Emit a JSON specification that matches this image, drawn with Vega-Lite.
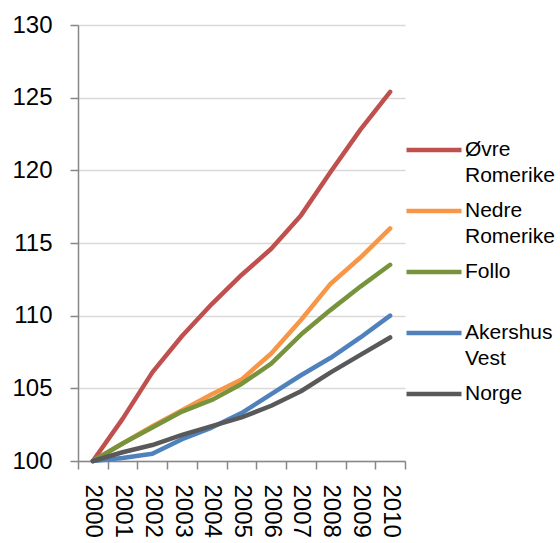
{
  "$schema": "https://vega.github.io/schema/vega-lite/v6.json",
  "width": 327,
  "height": 436,
  "padding": {"left": 78, "top": 25, "right": 155, "bottom": 82},
  "autosize": {"type": "none"},
  "background": "white",
  "config": {
    "font": "Liberation Sans",
    "view": {"stroke": null},
    "style": {"guide-label": {"lineHeight": 26}}
  },
  "data": {
    "values": [
      {"region": "Øvre Romerike", "year": "2000", "value": 100},
      {"region": "Øvre Romerike", "year": "2001", "value": 102.9},
      {"region": "Øvre Romerike", "year": "2002", "value": 106.1},
      {"region": "Øvre Romerike", "year": "2003", "value": 108.6},
      {"region": "Øvre Romerike", "year": "2004", "value": 110.8},
      {"region": "Øvre Romerike", "year": "2005", "value": 112.8},
      {"region": "Øvre Romerike", "year": "2006", "value": 114.6},
      {"region": "Øvre Romerike", "year": "2007", "value": 116.9},
      {"region": "Øvre Romerike", "year": "2008", "value": 119.9},
      {"region": "Øvre Romerike", "year": "2009", "value": 122.8},
      {"region": "Øvre Romerike", "year": "2010", "value": 125.4},
      {"region": "Nedre Romerike", "year": "2000", "value": 100},
      {"region": "Nedre Romerike", "year": "2001", "value": 101.2},
      {"region": "Nedre Romerike", "year": "2002", "value": 102.4},
      {"region": "Nedre Romerike", "year": "2003", "value": 103.5},
      {"region": "Nedre Romerike", "year": "2004", "value": 104.6},
      {"region": "Nedre Romerike", "year": "2005", "value": 105.6},
      {"region": "Nedre Romerike", "year": "2006", "value": 107.4},
      {"region": "Nedre Romerike", "year": "2007", "value": 109.7},
      {"region": "Nedre Romerike", "year": "2008", "value": 112.2},
      {"region": "Nedre Romerike", "year": "2009", "value": 114.0},
      {"region": "Nedre Romerike", "year": "2010", "value": 116.0},
      {"region": "Follo", "year": "2000", "value": 100},
      {"region": "Follo", "year": "2001", "value": 101.2},
      {"region": "Follo", "year": "2002", "value": 102.3},
      {"region": "Follo", "year": "2003", "value": 103.4},
      {"region": "Follo", "year": "2004", "value": 104.2},
      {"region": "Follo", "year": "2005", "value": 105.3},
      {"region": "Follo", "year": "2006", "value": 106.7},
      {"region": "Follo", "year": "2007", "value": 108.7},
      {"region": "Follo", "year": "2008", "value": 110.4},
      {"region": "Follo", "year": "2009", "value": 112.0},
      {"region": "Follo", "year": "2010", "value": 113.5},
      {"region": "Akershus Vest", "year": "2000", "value": 100},
      {"region": "Akershus Vest", "year": "2001", "value": 100.2},
      {"region": "Akershus Vest", "year": "2002", "value": 100.5},
      {"region": "Akershus Vest", "year": "2003", "value": 101.5},
      {"region": "Akershus Vest", "year": "2004", "value": 102.3},
      {"region": "Akershus Vest", "year": "2005", "value": 103.3},
      {"region": "Akershus Vest", "year": "2006", "value": 104.6},
      {"region": "Akershus Vest", "year": "2007", "value": 105.9},
      {"region": "Akershus Vest", "year": "2008", "value": 107.1},
      {"region": "Akershus Vest", "year": "2009", "value": 108.5},
      {"region": "Akershus Vest", "year": "2010", "value": 110.0},
      {"region": "Norge", "year": "2000", "value": 100},
      {"region": "Norge", "year": "2001", "value": 100.6},
      {"region": "Norge", "year": "2002", "value": 101.1},
      {"region": "Norge", "year": "2003", "value": 101.8},
      {"region": "Norge", "year": "2004", "value": 102.4},
      {"region": "Norge", "year": "2005", "value": 103.0},
      {"region": "Norge", "year": "2006", "value": 103.8},
      {"region": "Norge", "year": "2007", "value": 104.8},
      {"region": "Norge", "year": "2008", "value": 106.1},
      {"region": "Norge", "year": "2009", "value": 107.3},
      {"region": "Norge", "year": "2010", "value": 108.5}
    ]
  },
  "mark": {"type": "line", "strokeWidth": 4.5, "strokeCap": "round", "strokeJoin": "round"},
  "encoding": {
    "x": {
      "field": "year",
      "type": "ordinal",
      "scale": {"type": "band", "paddingInner": 0, "paddingOuter": 0},
      "axis": {
        "title": null,
        "labelAngle": 90,
        "labelFontSize": 24,
        "labelColor": "#000000",
        "labelPadding": 15,
        "tickBand": "extent",
        "tickSize": 8,
        "tickColor": "#878787",
        "tickWidth": 1.5,
        "domainColor": "#878787",
        "domainWidth": 1.5,
        "grid": false
      }
    },
    "y": {
      "field": "value",
      "type": "quantitative",
      "scale": {"domain": [100, 130], "nice": false, "zero": false},
      "axis": {
        "title": null,
        "values": [100, 105, 110, 115, 120, 125, 130],
        "labelFontSize": 24,
        "labelColor": "#000000",
        "labelPadding": 18,
        "tickSize": 8,
        "tickColor": "#878787",
        "tickWidth": 1.5,
        "domainColor": "#878787",
        "domainWidth": 1.5,
        "gridColor": "#D9D9D9",
        "gridWidth": 1.5
      }
    },
    "color": {
      "field": "region",
      "type": "nominal",
      "sort": null,
      "scale": {
        "domain": ["Øvre Romerike", "Nedre Romerike", "Follo", "Akershus Vest", "Norge"],
        "range": ["#C0504D", "#F79646", "#77933C", "#4F81BD", "#595959"]
      },
      "legend": {
        "title": null,
        "orient": "none",
        "legendX": 340,
        "legendY": 109,
        "labelExpr": "split(datum.label, ' ')",
        "labelFontSize": 21,
        "labelColor": "#000000",
        "labelLimit": 200,
        "symbolType": "M-2,0H2",
        "symbolSize": 756,
        "symbolStrokeWidth": 4.5,
        "symbolFillColor": "transparent",
        "labelOffset": 15,
        "gridAlign": "all",
        "rowPadding": 9
      }
    }
  }
}
